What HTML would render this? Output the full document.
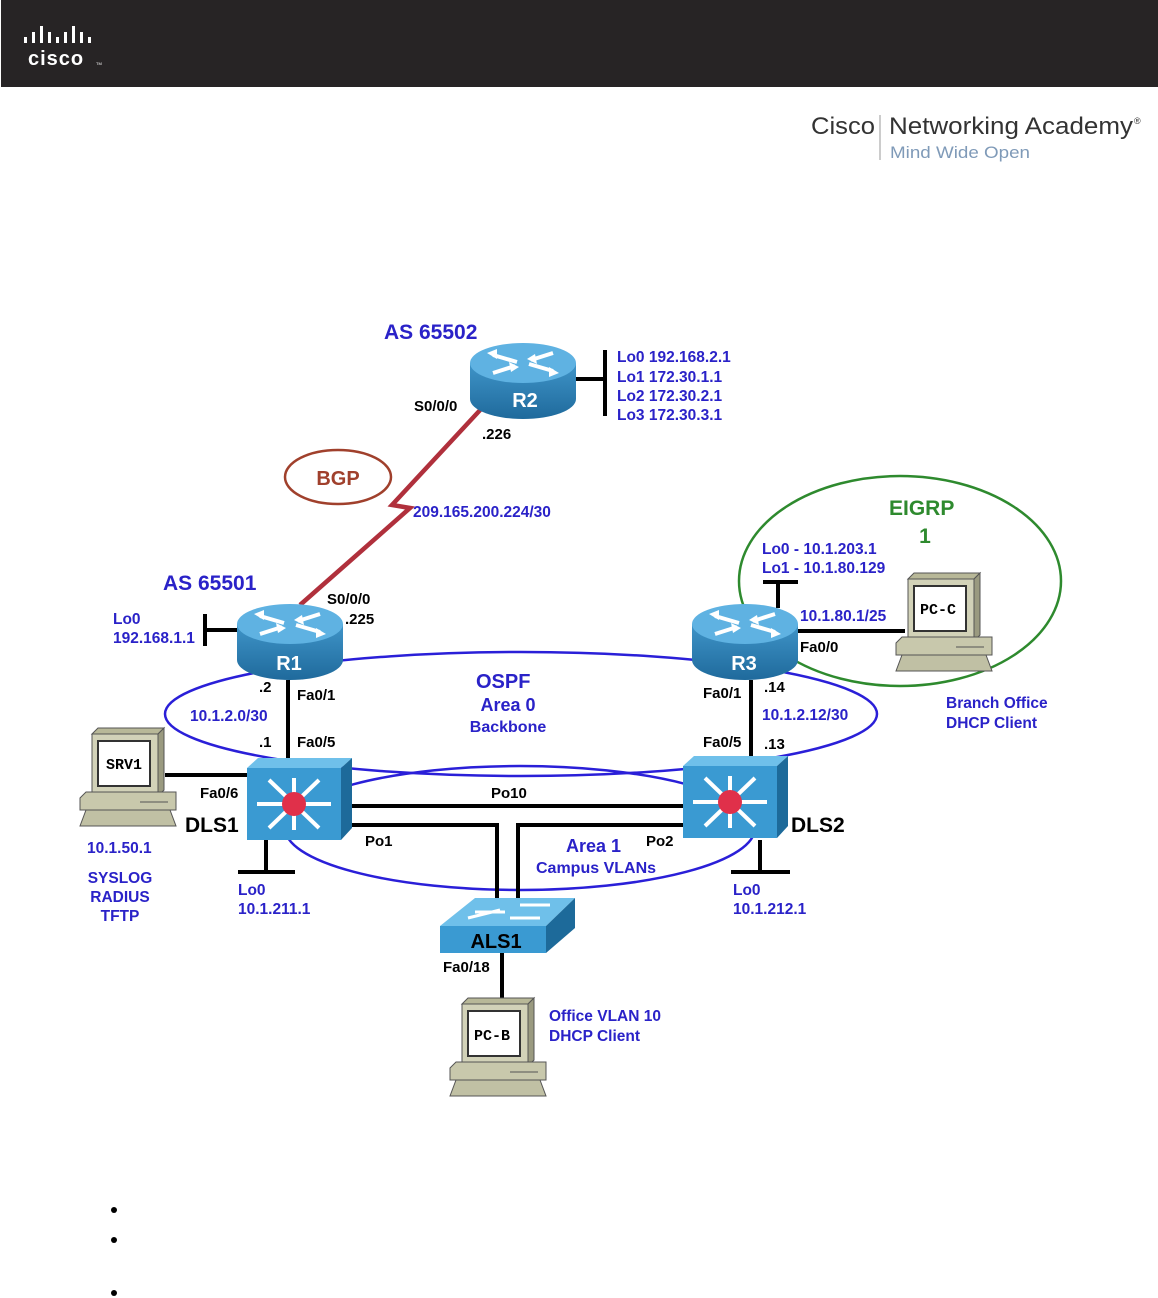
<!DOCTYPE html>
<html><head><meta charset="utf-8"><style>
html,body{margin:0;padding:0;background:#fff;}
svg{display:block;}
</style></head><body>
<svg width="1158" height="1298" viewBox="0 0 1158 1298" xmlns="http://www.w3.org/2000/svg" font-family="Liberation Sans, sans-serif">
<defs>
<linearGradient id="rb" x1="0" y1="0" x2="0" y2="1"><stop offset="0" stop-color="#3f94c8"/><stop offset="1" stop-color="#1f6a9c"/></linearGradient>
<g id="router">
  <path d="M-53,0 L-53,36 A53,20 0 0 0 53,36 L53,0 Z" fill="url(#rb)"/>
  <ellipse cx="0" cy="0" rx="53" ry="20" fill="#5fb2e2"/>
  <g stroke="#fff" stroke-width="4" fill="#fff">
    <line x1="-30" y1="-8" x2="-6" y2="-1"/><line x1="30" y1="8" x2="6" y2="1"/>
    <line x1="30" y1="-10" x2="8" y2="-3"/><line x1="-30" y1="10" x2="-8" y2="3"/>
  </g>
  <g fill="#fff"><polygon points="-36,-10 -26,-14 -26,-4"/><polygon points="36,10 26,14 26,4"/><polygon points="4,-4 12,-9 14,1"/><polygon points="-4,4 -12,9 -14,-1"/></g>
</g>
<g id="mls">
  <polygon points="0,10 11,0 105,0 94,10" fill="#6fc0ea"/>
  <polygon points="94,10 105,0 105,70 94,82" fill="#1d6a9a"/>
  <rect x="0" y="10" width="94" height="72" fill="#3a9ad2"/>
  <g stroke="#fff" stroke-width="4">
    <line x1="47" y1="20" x2="47" y2="72"/><line x1="10" y1="46" x2="84" y2="46"/>
    <line x1="22" y1="22" x2="72" y2="70"/><line x1="72" y1="22" x2="22" y2="70"/>
  </g>
  <circle cx="47" cy="46" r="12" fill="#e0304a"/>
</g>
<g id="pc">
  <polygon points="14,6 20,0 86,0 80,6" fill="#b8b898" stroke="#555" stroke-width="1"/>
  <polygon points="80,6 86,0 86,62 80,68" fill="#9a9a80" stroke="#555" stroke-width="1"/>
  <rect x="14" y="6" width="66" height="62" fill="#d2d2b8" stroke="#555"/>
  <rect x="20" y="13" width="52" height="45" fill="#fff" stroke="#333" stroke-width="2"/>
  <polygon points="2,70 8,64 98,64 98,82 2,82" fill="#c8c8ac" stroke="#555"/>
  <line x1="62" y1="74" x2="90" y2="74" stroke="#555"/>
  <polygon points="8,82 92,82 98,98 2,98" fill="#c0c0a4" stroke="#555"/>
</g>
</defs>

<!-- header -->
<rect x="1" y="0" width="1157" height="87" fill="#272425"/>
<g fill="#fff">
  <rect x="24" y="37" width="3" height="6"/><rect x="32" y="32" width="3" height="11"/><rect x="40" y="26" width="3" height="17"/>
  <rect x="48" y="32" width="3" height="11"/><rect x="56" y="37" width="3" height="6"/><rect x="64" y="32" width="3" height="11"/>
  <rect x="72" y="26" width="3" height="17"/><rect x="80" y="32" width="3" height="11"/><rect x="88" y="37" width="3" height="6"/>
</g>
<text x="28" y="65" fill="#fff" font-size="20" font-weight="bold" letter-spacing="1">cisco</text>
<text x="96" y="65" fill="#fff" font-size="4">TM</text>

<text x="811" y="134" font-size="24" fill="#333" textLength="64" lengthAdjust="spacingAndGlyphs">Cisco</text>
<line x1="880" y1="115" x2="880" y2="160" stroke="#999" stroke-width="1"/>
<text x="889" y="134" font-size="24" fill="#333" textLength="244" lengthAdjust="spacingAndGlyphs">Networking Academy</text>
<text x="1134" y="124" font-size="9" fill="#333">®</text>
<text x="890" y="158" font-size="17" fill="#7f9ab8" textLength="140" lengthAdjust="spacingAndGlyphs">Mind Wide Open</text>

<!-- ellipses -->
<ellipse cx="521" cy="714" rx="356" ry="62" fill="none" stroke="#2a1fd8" stroke-width="2.5"/>
<ellipse cx="520" cy="828" rx="235" ry="62" fill="none" stroke="#2a1fd8" stroke-width="2.5"/>
<ellipse cx="900" cy="581" rx="161" ry="105" fill="none" stroke="#2e8a2e" stroke-width="2.5"/>
<ellipse cx="338" cy="477" rx="53" ry="27" fill="none" stroke="#a0402c" stroke-width="2.5"/>

<!-- links -->
<g stroke="#000" stroke-width="4" fill="none">
  <line x1="288" y1="680" x2="288" y2="768"/>
  <line x1="751" y1="680" x2="751" y2="766"/>
  <line x1="345" y1="806" x2="683" y2="806"/>
  <polyline points="345,825 497,825 497,898"/>
  <polyline points="683,825 518,825 518,898"/>
  <line x1="502" y1="953" x2="502" y2="1002"/>
  <line x1="165" y1="775" x2="248" y2="775"/>
  <line x1="266" y1="840" x2="266" y2="872"/><line x1="238" y1="872" x2="295" y2="872"/>
  <line x1="760" y1="840" x2="760" y2="872"/><line x1="731" y1="872" x2="790" y2="872"/>
  <line x1="205" y1="630" x2="240" y2="630"/><line x1="205" y1="614" x2="205" y2="646"/>
  <line x1="574" y1="379" x2="605" y2="379"/><line x1="605" y1="350" x2="605" y2="416"/>
  <line x1="778" y1="582" x2="778" y2="608"/><line x1="763" y1="582" x2="798" y2="582"/>
  <line x1="796" y1="631" x2="905" y2="631"/>
</g>
<polyline points="482,408 392,505 410,508 300,605" fill="none" stroke="#b0303c" stroke-width="4.5"/>

<!-- devices -->
<use href="#router" x="523" y="363"/>
<use href="#router" x="290" y="624"/>
<use href="#router" x="745" y="624"/>
<g font-weight="bold" fill="#fff" font-size="20" text-anchor="middle">
  <text x="525" y="407">R2</text><text x="289" y="670">R1</text><text x="744" y="670">R3</text>
</g>
<use href="#mls" x="247" y="758"/>
<use href="#mls" x="683" y="756"/>
<!-- ALS1 -->
<polygon points="440,926 475,898 575,898 546,926" fill="#6fc0ea"/>
<polygon points="546,926 575,898 575,928 546,953" fill="#1d6a9a"/>
<rect x="440" y="926" width="106" height="27" fill="#3a9ad2"/>
<g stroke="#fff" stroke-width="3"><line x1="468" y1="918" x2="500" y2="910"/><line x1="520" y1="905" x2="550" y2="905"/><line x1="475" y1="912" x2="505" y2="912"/><line x1="510" y1="918" x2="540" y2="918"/></g>
<text x="496" y="948" font-weight="bold" font-size="20" text-anchor="middle">ALS1</text>
<use href="#pc" x="448" y="998"/>
<use href="#pc" x="894" y="573"/>
<use href="#pc" x="78" y="728"/>
<g font-weight="bold" font-size="15" text-anchor="middle" font-family="Liberation Mono, monospace">
  <text x="492" y="1040">PC-B</text><text x="938" y="614">PC-C</text><text x="124" y="769">SRV1</text>
</g>

<!-- labels -->
<g font-weight="bold" fill="#2a22c8">
  <text x="384" y="339" font-size="21">AS 65502</text>
  <text x="163" y="590" font-size="21">AS 65501</text>
  <text x="476" y="688" font-size="20">OSPF</text>
  <text x="508" y="711" font-size="18" text-anchor="middle">Area 0</text>
  <text x="508" y="732" font-size="16" text-anchor="middle">Backbone</text>
  <text x="566" y="852" font-size="18">Area 1</text>
  <text x="536" y="873" font-size="16">Campus VLANs</text>
  <g font-size="15.5">
    <text x="617" y="362">Lo0 192.168.2.1</text>
    <text x="617" y="382">Lo1 172.30.1.1</text>
    <text x="617" y="401">Lo2 172.30.2.1</text>
    <text x="617" y="420">Lo3 172.30.3.1</text>
    <text x="413" y="517">209.165.200.224/30</text>
    <text x="113" y="624">Lo0</text>
    <text x="113" y="643">192.168.1.1</text>
    <text x="190" y="721">10.1.2.0/30</text>
    <text x="762" y="554">Lo0 - 10.1.203.1</text>
    <text x="762" y="573">Lo1 - 10.1.80.129</text>
    <text x="800" y="621">10.1.80.1/25</text>
    <text x="762" y="720">10.1.2.12/30</text>
    <text x="946" y="708">Branch Office</text>
    <text x="946" y="728">DHCP Client</text>
    <text x="87" y="853">10.1.50.1</text>
    <text x="120" y="883" text-anchor="middle">SYSLOG</text>
    <text x="120" y="902" text-anchor="middle">RADIUS</text>
    <text x="120" y="921" text-anchor="middle">TFTP</text>
    <text x="238" y="895">Lo0</text>
    <text x="238" y="914">10.1.211.1</text>
    <text x="733" y="895">Lo0</text>
    <text x="733" y="914">10.1.212.1</text>
    <text x="549" y="1021">Office VLAN 10</text>
    <text x="549" y="1041">DHCP Client</text>
  </g>
</g>
<text x="889" y="515" font-weight="bold" font-size="21" fill="#2e8a2e">EIGRP</text>
<text x="925" y="543" font-weight="bold" font-size="21" fill="#2e8a2e" text-anchor="middle">1</text>
<text x="338" y="485" font-weight="bold" font-size="20" fill="#a0402c" text-anchor="middle">BGP</text>

<g font-weight="bold" font-size="15" fill="#000">
  <text x="414" y="411">S0/0/0</text>
  <text x="482" y="439">.226</text>
  <text x="327" y="604">S0/0/0</text>
  <text x="345" y="624">.225</text>
  <text x="259" y="692">.2</text>
  <text x="297" y="700">Fa0/1</text>
  <text x="259" y="747">.1</text>
  <text x="297" y="747">Fa0/5</text>
  <text x="200" y="798">Fa0/6</text>
  <text x="185" y="832" font-size="21">DLS1</text>
  <text x="491" y="798">Po10</text>
  <text x="365" y="846">Po1</text>
  <text x="646" y="846">Po2</text>
  <text x="791" y="832" font-size="21">DLS2</text>
  <text x="800" y="652">Fa0/0</text>
  <text x="703" y="698">Fa0/1</text>
  <text x="764" y="692">.14</text>
  <text x="703" y="747">Fa0/5</text>
  <text x="764" y="749">.13</text>
  <text x="443" y="972">Fa0/18</text>
</g>

<g fill="#000"><circle cx="114" cy="1210" r="3"/><circle cx="114" cy="1240" r="3"/><circle cx="114" cy="1293" r="3"/></g>
</svg>
</body></html>
